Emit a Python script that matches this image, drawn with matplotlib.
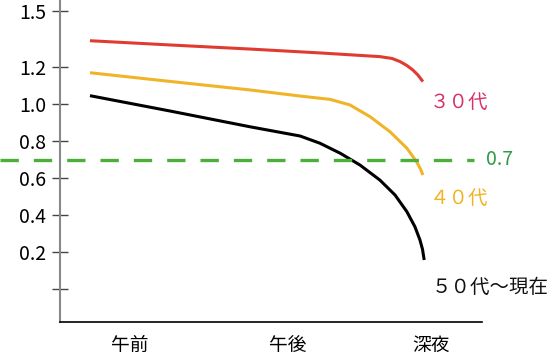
import matplotlib
matplotlib.use("Agg")
import matplotlib.pyplot as plt

plt.rcParams['font.family'] = ['Noto Sans CJK JP', 'DejaVu Sans']

# x: 時間の進み (0-100), y: 値
x_30 = [7.1, 26.1, 45.0, 61.6, 75.8, 78.7, 80.6, 82.2, 83.6, 84.8, 86.0]
y_30 = [1.342, 1.319, 1.297, 1.276, 1.256, 1.246, 1.229, 1.208, 1.184, 1.157, 1.121]

x_40 = [7.1, 26.1, 45.0, 56.9, 64.0, 68.7, 73.5, 78.2, 82.2, 84.5, 85.4, 86.0]
y_40 = [1.169, 1.122, 1.076, 1.043, 1.025, 0.995, 0.931, 0.850, 0.761, 0.688, 0.650, 0.616]

x_50 = [7.1, 26.1, 45.0, 56.9, 61.6, 66.4, 71.1, 75.8, 79.4, 82.2, 84.1, 85.3, 85.9, 86.3]
y_50 = [1.045, 0.962, 0.877, 0.827, 0.788, 0.734, 0.670, 0.589, 0.508, 0.418, 0.337, 0.265, 0.215, 0.157]

threshold = 0.7
time_pos = [16.6, 54.0, 88.0]
time_labels = ['午前', '午後', '深夜']
y_ticks = [0.0, 0.2, 0.4, 0.6, 0.8, 1.0, 1.2, 1.5]
y_labels = ['', '0.2', '0.4', '0.6', '0.8', '1.0', '1.2', '1.5']

fig = plt.figure(figsize=(5.52, 3.62), dpi=100)
ax = fig.add_axes([60/552, 40/362, 422/552, 322/362])

for xs, ys, c in [(x_30, y_30, '#e03b30'), (x_40, y_40, '#f0b429'), (x_50, y_50, 'black')]:
    ax.plot(xs, ys, color=c, lw=2.2, solid_capstyle='butt', solid_joinstyle='round')

# しきい値の破線 (左端まではみ出す)
ax.plot([-14.2, 98.0], [threshold, threshold], color='#4caf3a', lw=2.4,
        dashes=(5.5, 4.5), clip_on=False)
ax.text(101.0, threshold, '0.7', color='#2e9a48', fontsize=14, va='center', ha='left')

ax.text(87.5, 1.01, '３０代', color='#d6336b', fontsize=14, va='center', ha='left')
ax.text(87.5, 0.49, '４０代', color='#f0b323', fontsize=14, va='center', ha='left')
ax.text(88.0, 0.01, '５０代〜現在', color='#111111', fontsize=14, va='center', ha='left')

ax.set_xlim(0, 100)
ax.set_ylim(-0.178, 1.562)

ax.set_yticks(y_ticks)
ax.set_yticklabels(y_labels, fontsize=14)
ax.tick_params(axis='y', direction='inout', length=11.5, width=1, color='#444444', pad=4)
ax.set_xticks(time_pos)
ax.set_xticklabels(time_labels, fontsize=13.5)
ax.tick_params(axis='x', length=0, pad=9)

ax.spines['top'].set_visible(False)
ax.spines['right'].set_visible(False)
ax.spines['left'].set_color('#888888')
ax.spines['left'].set_linewidth(1.5)
ax.spines['bottom'].set_color('black')
ax.spines['bottom'].set_linewidth(1.2)

fig.savefig('out.png', dpi=100)
